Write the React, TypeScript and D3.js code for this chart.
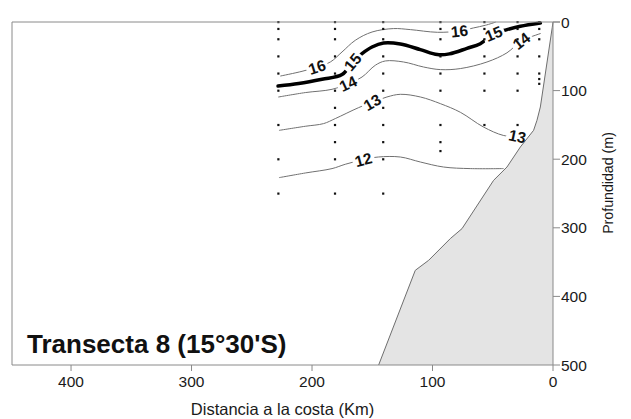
import React from "react";
import * as d3 from "d3";

const W = 631;
const H = 419;

// axis ticks
const xTicks = [400, 300, 200, 100, 0];
const yTicks = [0, 100, 200, 300, 400, 500];

// station positions (km from coast) and sampling depths (m)
const stationKm = [228, 181, 141, 93.5, 57, 29.5, 11.5];
const stationDepths = [
  [0, 10, 25, 50, 75, 100, 150, 200, 250],
  [0, 10, 25, 50, 75, 100, 125, 150, 175, 200, 250],
  [0, 10, 25, 50, 75, 100, 125, 150, 175, 200, 250],
  [0, 10, 25, 50, 75, 100, 150, 175, 188],
  [0, 10, 25, 50, 75, 100, 150],
  [0, 10, 25, 50, 75, 100, 150],
  [0, 10, 25, 50, 75, 83, 90],
];

// isotherms [km, depth]
const iso16: [number, number][] = [
  [226, 78.7], [208.3, 71.9], [195.9, 65.6], [184.8, 58.3], [175.1, 43.7], [164.1, 26.7],
  [150.2, 14.6], [132.5, 9.6], [118.4, 11.1], [96, 15], [77.7, 13.1], [66.1, 8.7],
  [56.2, 4.8], [47.9, 0.4],
];
const iso15: [number, number][] = [
  [228.2, 93.3], [211.1, 89.8], [191.7, 83.5], [175.1, 76.7], [166.3, 58.3], [158.5, 46.1],
  [150.2, 36.4], [140.6, 30.6], [126.7, 32], [110.1, 40.2], [96, 47.5], [86, 46.5],
  [71.4, 38.4], [60.3, 31.6], [49.3, 16.9], [38.2, 11.1], [27.1, 6.3], [10.5, 1.5],
];
const iso14: [number, number][] = [
  [227.7, 109.3], [205.6, 102.9], [183.4, 98.1], [170.1, 89.8], [158.5, 80.2], [147.5, 63.1],
  [139.2, 56.8], [124, 58.3], [107.4, 65.6], [93.5, 69.4], [76.9, 67.9], [54.8, 58.3],
  [38.2, 44.9], [26.3, 27.4], [14.7, 19.4], [10.5, 16.9],
];
const iso13: [number, number][] = [
  [227.1, 157.9], [205.6, 152], [190.4, 148.1], [180.7, 140.8], [161.3, 124.8], [150, 117],
  [137.8, 109.3], [126.7, 105.4], [110.1, 109.3], [93.5, 119], [76.9, 131.6], [57.8, 153],
  [41.3, 165.3], [30, 167],
];
const iso12: [number, number][] = [
  [227.1, 226.8], [205.6, 220.1], [183.4, 213.7], [172.4, 207.4], [157.4, 200.6], [145, 196.8],
  [126.7, 196.8], [110.1, 204.1], [90.8, 211.4], [68.7, 213.7], [41.3, 213.7],
];

const isoLevels = [16, 15, 14, 13, 12];
const isoLines = [iso16, iso15, iso14, iso13, iso12];
const isoBold = [false, true, false, false, false];

// contour labels: text, km, depth, angle
const labelText = ["16", "16", "15", "15", "14", "14", "13", "13", "12"];
const labelKm = [195.9, 77.7, 166.3, 49.3, 170.1, 26.3, 150, 29.6, 157.4];
const labelDepth = [65.6, 13.1, 58.3, 16.9, 89.8, 27.4, 117, 166.6, 200.6];
const labelAngle = [-18, -6, -50, -22, -25, -38, -30, 12, -15];

// shelf / slope bottom profile [km, depth]
const bottom: [number, number][] = [
  [144.7, 500], [114.3, 362], [103.2, 347.4], [85.2, 315.7], [75.5, 301.2], [49.3, 230.8],
  [38.2, 211.4], [27.1, 182.2], [16.1, 157.9], [13.3, 143.3], [10.5, 123.9], [0.6, 7.7], [0, 0],
];

const FONT = "'Liberation Sans', Arial, Helvetica, sans-serif";

export default function App() {
  const left = 12;
  const right = 553;
  const top = 22;
  const bot = 365;

  const x = d3.scaleLinear().domain([449, 0]).range([left, right]);
  const y = d3.scaleLinear().domain([0, 500]).range([top, bot]);

  const line = d3
    .line<[number, number]>()
    .x((d) => x(d[0]))
    .y((d) => y(d[1]))
    .curve(d3.curveCatmullRom.alpha(0.5));

  const bottomPoly: [number, number][] = [...bottom, [0, 500]];
  const area = d3
    .line<[number, number]>()
    .x((d) => x(d[0]))
    .y((d) => y(d[1]));

  const gray = "#8a8a8a";
  const txt = "#1a1a1a";

  return (
    <svg
      width={W}
      height={H}
      style={{ position: "absolute", left: 0, top: 0, background: "#fff" }}
      fontFamily={FONT}
    >
      <defs>
        <mask id="lblmask" maskUnits="userSpaceOnUse" x={0} y={0} width={W} height={H}>
          <rect x={0} y={0} width={W} height={H} fill="#fff" />
          {labelText.map((t, i) => (
            <rect
              key={i}
              x={-11}
              y={-8}
              width={22}
              height={16}
              fill="#000"
              transform={`translate(${x(labelKm[i])},${y(labelDepth[i])}) rotate(${labelAngle[i]})`}
            />
          ))}
        </mask>
      </defs>

      {/* bottom topography */}
      <path d={area(bottomPoly) + "Z"} fill="#e4e4e4" stroke="none" />
      <path d={area(bottom) || ""} fill="none" stroke="#6e6e6e" strokeWidth={1} />

      {/* isotherms */}
      <g mask="url(#lblmask)">
        {isoLines.map((pts, i) => (
          <path
            key={isoLevels[i]}
            d={line(pts) || ""}
            fill="none"
            stroke={isoBold[i] ? "#000" : "#707070"}
            strokeWidth={isoBold[i] ? 3.5 : 1}
            strokeLinecap="round"
            strokeLinejoin="round"
          />
        ))}
      </g>

      {/* stations */}
      {stationKm.map((k, i) =>
        stationDepths[i].map((dp, j) => (
          <rect
            key={`${i}-${j}`}
            x={x(k) - 1}
            y={y(dp) - 1}
            width={2.2}
            height={2.2}
            fill="#111"
          />
        ))
      )}

      {/* labels */}
      {labelText.map((t, i) => (
        <text
          key={i}
          transform={`translate(${x(labelKm[i])},${y(labelDepth[i])}) rotate(${labelAngle[i]})`}
          textAnchor="middle"
          dy="0.36em"
          fontSize={15.5}
          fontWeight="bold"
          fill="#111"
        >
          {t}
        </text>
      ))}

      {/* frame */}
      <line x1={left} y1={top} x2={right + 7} y2={top} stroke={gray} />
      <line x1={left} y1={top} x2={left} y2={bot} stroke={gray} />
      <line x1={left} y1={bot} x2={right} y2={bot} stroke={gray} />
      <line x1={right} y1={top} x2={right} y2={bot} stroke={gray} />

      {/* x axis ticks */}
      {xTicks.map((t) => (
        <g key={t}>
          <line x1={x(t)} x2={x(t)} y1={bot} y2={bot + 6} stroke={gray} />
          <text x={x(t)} y={387} textAnchor="middle" fontSize={15.5} fill={txt}>
            {t}
          </text>
        </g>
      ))}
      <text x={(left + right) / 2} y={415} textAnchor="middle" fontSize={16.5} fill={txt}>
        Distancia a la costa (Km)
      </text>

      {/* y axis ticks */}
      {yTicks.map((t) => (
        <g key={t}>
          <line x1={right} x2={right + 7} y1={y(t)} y2={y(t)} stroke={gray} />
          <text x={right + 8} y={y(t)} dy="0.36em" fontSize={15.5} fill={txt}>
            {t}
          </text>
        </g>
      ))}
      <text
        transform={`translate(613,183) rotate(-90)`}
        textAnchor="middle"
        fontSize={14.2}
        fill={txt}
      >
        Profundidad (m)
      </text>

      {/* title */}
      <text x={27} y={353} fontSize={26} fontWeight="bold" fill="#111">
        Transecta 8 (15°30'S)
      </text>
    </svg>
  );
}
